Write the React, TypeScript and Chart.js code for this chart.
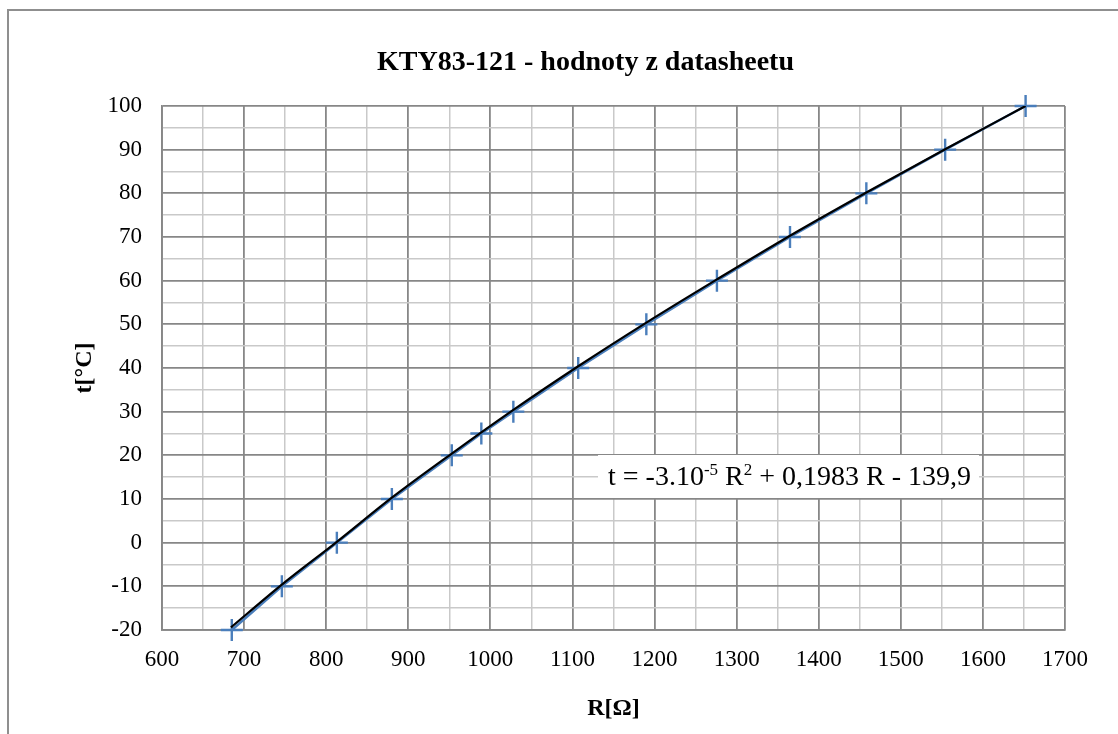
import React, { useEffect, useRef } from 'react';
import { Chart, registerables } from 'chart.js';

Chart.register(...registerables);

// Data (KTY83-121 datasheet values)
const temperatures = [-20, -10, 0, 10, 20, 25, 30, 40, 50, 60, 70, 80, 90, 100];
const resistances = [685, 746, 813, 880, 953, 989, 1028, 1107, 1190, 1276, 1365, 1458, 1554, 1652];

// Polynomial trendline (black curve)
const trendR = [684, 746, 813, 880, 953, 1028, 1107, 1190, 1276, 1365, 1458, 1554, 1652];
const trendT = [-19.4, -9.6, 0.2, 10.3, 20.4, 30.4, 40.4, 50.4, 60.3, 70.3, 80.2, 90.1, 100.0];

const chartTitle = 'KTY83-121 - hodnoty z datasheetu';
const xTitle = 'R[Ω]';
const yTitle = 't[°C]';
const eqParts = ['t = -3.10', '-5', ' R', '2', ' + 0,1983 R - 139,9'];
const eqSuper = [false, true, false, true, false];

const X_MIN = 600;
const X_MAX = 1700;
const Y_MIN = -20;
const Y_MAX = 100;

const FONT = "'Liberation Serif', 'Times New Roman', serif";
const MAJOR = '#878787';
const MINOR = '#c9c9c9';
const BLUE = '#4a7ebb';

const eqPlugin = {
  id: 'equationBox',
  beforeDatasetsDraw(chart: any) {
    const ctx = chart.ctx;
    const a = chart.chartArea;
    const bx = a.left + 436;
    const by = a.top + 349;
    const bw = 381;
    const bh = 43;
    ctx.save();
    ctx.fillStyle = '#ffffff';
    ctx.fillRect(bx, by, bw, bh);
    ctx.fillStyle = '#000000';
    ctx.textBaseline = 'alphabetic';
    ctx.textAlign = 'left';
    let x = bx + 10;
    const base = by + 30;
    eqParts.forEach((t, i) => {
      const sup = eqSuper[i];
      ctx.font = sup ? `17px ${FONT}` : `28px ${FONT}`;
      ctx.fillText(t, x, sup ? base - 10 : base);
      x += ctx.measureText(t).width;
    });
    ctx.restore();
  },
};

export default function App() {
  const canvasRef = useRef<HTMLCanvasElement | null>(null);

  useEffect(() => {
    if (!canvasRef.current) return;
    const seriesData = resistances.map((r, i) => ({ x: r, y: temperatures[i] }));
    const trendData = trendR.map((r, i) => ({ x: r, y: trendT[i] }));

    const chart = new Chart(canvasRef.current, {
      type: 'scatter',
      data: {
        datasets: [
          {
            label: 'trend',
            data: trendData,
            showLine: true,
            borderColor: '#000000',
            borderWidth: 2.25,
            pointRadius: 0,
            cubicInterpolationMode: 'monotone',
            order: 0,
          },
          {
            label: 't',
            data: seriesData,
            showLine: true,
            clip: false,
            borderColor: BLUE,
            borderWidth: 2.5,
            pointStyle: 'cross',
            pointRadius: 11,
            pointBorderWidth: 2.4,
            pointBorderColor: BLUE,
            pointBackgroundColor: BLUE,
            order: 1,
          },
        ],
      },
      options: {
        responsive: false,
        animation: false,
        layout: { padding: 0 },
        plugins: {
          legend: { display: false },
          tooltip: { enabled: false },
          title: {
            display: true,
            text: chartTitle,
            color: '#000000',
            font: { family: FONT, size: 28, weight: 'bold' },
            padding: { top: 46.2, bottom: 26.2 },
          },
        },
        scales: {
          x: {
            type: 'linear',
            min: X_MIN,
            max: X_MAX,
            afterFit: (s: any) => {
              s.height = 104;
            },
            ticks: {
              stepSize: 50,
              autoSkip: false,
              maxRotation: 0,
              padding: 16,
              color: '#000000',
              font: { family: FONT, size: 23 },
              callback: (v: any) => (Number(v) % 100 === 0 ? String(v) : ''),
            },
            grid: {
              drawTicks: false,
              color: (c: any) => (c.tick && c.tick.value % 100 === 0 ? MAJOR : MINOR),
              lineWidth: (c: any) => (c.tick && c.tick.value % 100 === 0 ? 1.8 : 1.5),
            },
            border: { color: MAJOR, width: 1.8 },
            title: {
              display: true,
              text: xTitle,
              color: '#000000',
              font: { family: FONT, size: 24, weight: 'bold' },
              padding: { top: 0, bottom: 11 },
            },
          },
          y: {
            type: 'linear',
            position: 'left',
            min: Y_MIN,
            max: Y_MAX,
            afterFit: (s: any) => {
              s.width = 162;
            },
            ticks: {
              stepSize: 5,
              autoSkip: false,
              padding: 20,
              color: '#000000',
              font: { family: FONT, size: 23 },
              callback: (v: any) => (Number(v) % 10 === 0 ? String(v) : ''),
            },
            grid: {
              drawTicks: false,
              color: (c: any) => (c.tick && c.tick.value % 10 === 0 ? MAJOR : MINOR),
              lineWidth: (c: any) => (c.tick && c.tick.value % 10 === 0 ? 1.8 : 1.5),
            },
            border: { color: MAJOR, width: 1.8 },
            title: {
              display: true,
              text: yTitle,
              color: '#000000',
              font: { family: FONT, size: 24, weight: 'bold' },
              padding: { top: 70.6, bottom: 0 },
            },
          },
          yRight: {
            type: 'linear',
            position: 'right',
            min: Y_MIN,
            max: Y_MAX,
            afterFit: (s: any) => {
              s.width = 106;
            },
            ticks: { display: false },
            grid: { display: false, drawTicks: false },
            border: { display: false },
          },
        },
      },
      plugins: [eqPlugin],
    } as any);

    return () => {
      chart.destroy();
    };
  }, []);

  return (
    <div
      style={{
        position: 'fixed',
        left: 0,
        top: 0,
        width: 1118,
        height: 734,
        overflow: 'hidden',
        background: '#ffffff',
      }}
    >
      <canvas
        ref={canvasRef}
        width={1171}
        height={734}
        style={{ position: 'absolute', left: 0, top: 0, width: 1171, height: 734 }}
      />
      <div
        style={{
          position: 'absolute',
          left: 7,
          top: 9,
          width: 3000,
          height: 3000,
          borderLeft: '2px solid #8f8f8f',
          borderTop: '2px solid #8f8f8f',
          pointerEvents: 'none',
        }}
      />
    </div>
  );
}
